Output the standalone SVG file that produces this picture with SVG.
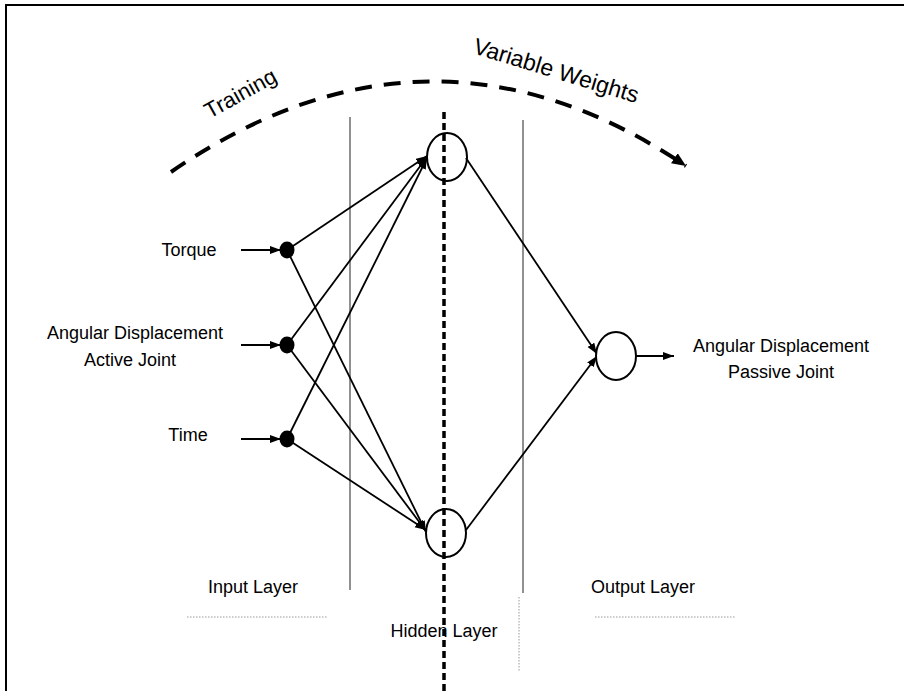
<svg xmlns="http://www.w3.org/2000/svg" width="904" height="691" viewBox="0 0 904 691">
  <style>
    text { font-family: "Liberation Sans", Arial, sans-serif; fill: #000; }
    .lbl { font-size: 18px; }
    .big { font-size: 22px; }
    .edge { stroke: #000; stroke-width: 1.8; fill: none; }
    .node { fill: #fff; stroke: #000; stroke-width: 2; }
    .dot { fill: #000; }
    .sep { stroke: #222; stroke-width: 1; }
    .dotted { stroke: #999; stroke-width: 1; stroke-dasharray: 1.5 1.5; }
  </style>
  <defs>
    <marker id="arr" markerUnits="userSpaceOnUse" markerWidth="12" markerHeight="10" refX="11" refY="4" orient="auto">
      <path d="M0,0 L11,4 L0,8 Z" fill="#000"/>
    </marker>
    <marker id="arrBig" markerUnits="userSpaceOnUse" markerWidth="16" markerHeight="14" refX="14" refY="6" orient="auto">
      <path d="M0,0 L14,6 L0,12 Z" fill="#000"/>
    </marker>
  </defs>

  <rect width="904" height="691" fill="#fff"/>
  <!-- frame -->
  <path d="M6,691 V5 H904" fill="none" stroke="#000" stroke-width="2"/>

  <!-- training arc -->
  <path d="M171,172 Q430,-6 686,166" fill="none" stroke="#000" stroke-width="4" stroke-dasharray="17 12" marker-end="url(#arrBig)"/>
  <text class="big" transform="translate(244,100) rotate(-29)" text-anchor="middle">Training</text>
  <text class="big" transform="translate(554,78) rotate(17)" text-anchor="middle" style="font-size:23px">Variable Weights</text>

  <!-- layer separators -->
  <line class="sep" x1="350" y1="117" x2="350" y2="590"/>
  <line class="sep" x1="523" y1="120" x2="523" y2="593" stroke="#555"/>
  <line class="dotted" x1="519" y1="597" x2="519" y2="672"/>
  <line class="dotted" x1="187" y1="617" x2="328" y2="617"/>
  <line class="dotted" x1="595" y1="617" x2="736" y2="617"/>
  <line x1="444" y1="112" x2="444" y2="691" stroke="#000" stroke-width="3.5" stroke-dasharray="7 4"/>

  <!-- connectors -->
  <g id="connectors">
    <line class="edge" x1="241" y1="250" x2="281" y2="250" marker-end="url(#arr)"/>
    <line class="edge" x1="241" y1="345" x2="281" y2="345" marker-end="url(#arr)"/>
    <line class="edge" x1="241" y1="439" x2="281" y2="439" marker-end="url(#arr)"/>

    <line class="edge" x1="287" y1="250" x2="427" y2="156" marker-end="url(#arr)"/>
    <line class="edge" x1="287" y1="250" x2="426" y2="532" marker-end="url(#arr)"/>
    <line class="edge" x1="287" y1="345" x2="427" y2="157" marker-end="url(#arr)"/>
    <line class="edge" x1="287" y1="345" x2="426" y2="531" marker-end="url(#arr)"/>
    <line class="edge" x1="287" y1="439" x2="427" y2="158" marker-end="url(#arr)"/>
    <line class="edge" x1="287" y1="439" x2="426" y2="530" marker-end="url(#arr)"/>

    <line class="edge" x1="466" y1="158" x2="597" y2="354" marker-end="url(#arr)"/>
    <line class="edge" x1="466" y1="530" x2="597" y2="356" marker-end="url(#arr)"/>

    <line class="edge" x1="636" y1="356" x2="674" y2="356" marker-end="url(#arr)"/>
  </g>

  <!-- input layer -->
  <g id="in-torque">
    <ellipse class="dot" cx="287" cy="250" rx="7.5" ry="8.5"/>
    <text class="lbl" x="189" y="256" text-anchor="middle">Torque</text>
  </g>
  <g id="in-angle">
    <ellipse class="dot" cx="287" cy="345" rx="7.5" ry="8.5"/>
    <text class="lbl" x="135" y="339" text-anchor="middle">Angular Displacement</text>
    <text class="lbl" x="130" y="366" text-anchor="middle">Active Joint</text>
  </g>
  <g id="in-time">
    <ellipse class="dot" cx="287" cy="439" rx="7.5" ry="8.5"/>
    <text class="lbl" x="188" y="441" text-anchor="middle">Time</text>
  </g>

  <!-- hidden layer -->
  <g id="hidden-1">
    <ellipse class="node" cx="447" cy="157" rx="20" ry="24" fill-opacity="0"/>
  </g>
  <g id="hidden-2">
    <ellipse class="node" cx="446" cy="533" rx="20" ry="24" fill-opacity="0"/>
  </g>

  <!-- output layer -->
  <g id="out">
    <ellipse class="node" cx="616" cy="356" rx="20" ry="24"/>
    <text class="lbl" x="781" y="352" text-anchor="middle">Angular Displacement</text>
    <text class="lbl" x="781" y="378" text-anchor="middle">Passive Joint</text>
  </g>

  <!-- layer captions -->
  <text class="lbl" x="253" y="593" text-anchor="middle">Input Layer</text>
  <text class="lbl" x="444" y="637" text-anchor="middle">Hidden Layer</text>
  <text class="lbl" x="643" y="593" text-anchor="middle">Output Layer</text>
</svg>
